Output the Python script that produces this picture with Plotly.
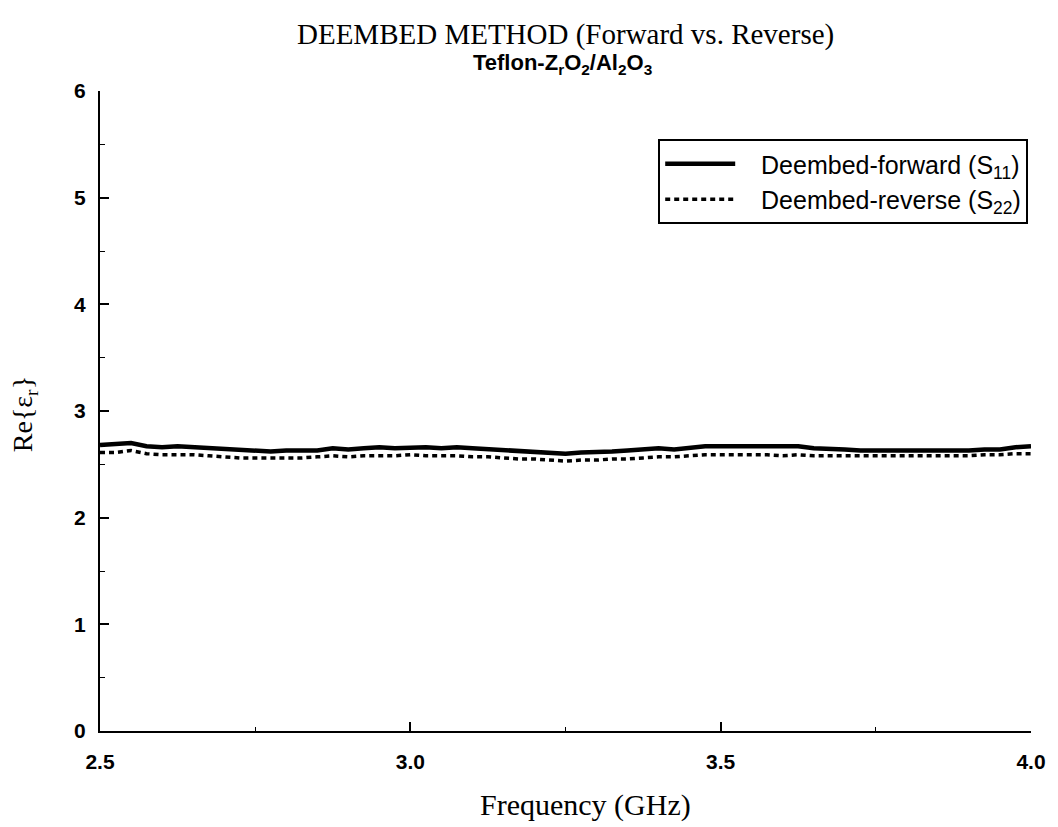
import plotly.graph_objects as go

# Frequency sweep, 2.5-4.0 GHz in 25 MHz steps
freq_ghz = [round(2.5 + 0.025 * i, 3) for i in range(61)]

# Real part of relative permittivity, deembedded from S11 (forward)
eps_forward = [
    2.68, 2.69, 2.70, 2.67, 2.66, 2.67, 2.66, 2.65, 2.64, 2.63,
    2.63, 2.62, 2.63, 2.63, 2.63, 2.65, 2.64, 2.65, 2.66, 2.65,
    2.66, 2.66, 2.65, 2.66, 2.65, 2.64, 2.64, 2.63, 2.62, 2.61,
    2.60, 2.61, 2.61, 2.62, 2.63, 2.64, 2.65, 2.64, 2.66, 2.67,
    2.67, 2.67, 2.66, 2.66, 2.66, 2.67, 2.65, 2.65, 2.64, 2.63,
    2.63, 2.63, 2.62, 2.62, 2.63, 2.63, 2.63, 2.64, 2.64, 2.66,
    2.67,
]

# Real part of relative permittivity, deembedded from S22 (reverse)
eps_reverse = [
    2.61, 2.61, 2.63, 2.60, 2.59, 2.59, 2.59, 2.58, 2.57, 2.56,
    2.56, 2.56, 2.56, 2.56, 2.57, 2.58, 2.57, 2.58, 2.58, 2.58,
    2.59, 2.58, 2.58, 2.58, 2.57, 2.57, 2.56, 2.55, 2.55, 2.54,
    2.53, 2.54, 2.54, 2.55, 2.55, 2.56, 2.57, 2.57, 2.58, 2.59,
    2.59, 2.59, 2.59, 2.59, 2.58, 2.59, 2.58, 2.58, 2.58, 2.58,
    2.58, 2.58, 2.58, 2.58, 2.58, 2.58, 2.58, 2.59, 2.59, 2.60,
    2.60,
]

x_ticks = [2.5, 3.0, 3.5, 4.0]
x_tick_text = ["2.5", "3.0", "3.5", "4.0"]
y_ticks = [0, 1, 2, 3, 4, 5, 6]

pad = "\u00a0" * 3

fig = go.Figure()
fig.add_trace(go.Scatter(
    x=freq_ghz, y=eps_forward, mode="lines",
    name=pad + "Deembed-forward (S<sub>11</sub>)",
    line=dict(color="black", width=4.5),
))
fig.add_trace(go.Scatter(
    x=freq_ghz, y=eps_reverse, mode="lines",
    name=pad + "Deembed-reverse (S<sub>22</sub>)",
    line=dict(color="black", width=3.5, dash="5px,4px"),
))

serif = "Liberation Serif, Times New Roman, serif"
sans = "Liberation Sans, Arial, sans-serif"

fig.update_layout(
    width=1058, height=827,
    margin=dict(l=100, r=25, t=91, b=96),
    paper_bgcolor="white", plot_bgcolor="white",
    showlegend=True,
    legend=dict(
        x=0.997, y=0.925, xanchor="right", yanchor="top",
        bordercolor="black", borderwidth=2, bgcolor="white",
        font=dict(family=sans, size=25, color="black"),
        itemwidth=70, tracegroupgap=0,
    ),
    xaxis=dict(
        range=[2.5, 4.0],
        tickvals=x_ticks, ticktext=x_tick_text,
        ticks="inside", ticklen=9, tickwidth=2, tickcolor="black",
        minor=dict(tickvals=[2.75, 3.25, 3.75], ticks="inside", ticklen=4,
                   tickwidth=1, tickcolor="black"),
        showline=True, linecolor="black", linewidth=2,
        showgrid=False, zeroline=False,
        ticklabelstandoff=11,
        tickfont=dict(family=sans, size=21, color="black", weight="bold"),
    ),
    yaxis=dict(
        range=[0, 6],
        tickvals=y_ticks,
        ticks="inside", ticklen=9, tickwidth=2, tickcolor="black",
        minor=dict(tickvals=[0.5, 1.5, 2.5, 3.5, 4.5, 5.5], ticks="inside",
                   ticklen=5, tickwidth=1, tickcolor="black"),
        showline=True, linecolor="black", linewidth=2,
        showgrid=False, zeroline=False,
        ticklabelstandoff=8,
        tickfont=dict(family=sans, size=21, color="black", weight="bold"),
    ),
    annotations=[
        dict(text="DEEMBED METHOD (Forward vs. Reverse)",
             xref="paper", yref="paper", x=0.5, y=1.0, yshift=57,
             xanchor="center", yanchor="middle", showarrow=False,
             font=dict(family=serif, size=29, color="black")),
        dict(text="Teflon-Z<sub>r</sub>O<sub>2</sub>/Al<sub>2</sub>O<sub>3</sub>",
             xref="paper", yref="paper", x=0.497, y=1.0, yshift=27,
             xanchor="center", yanchor="middle", showarrow=False,
             font=dict(family=sans, size=22, color="black", weight="bold")),
        dict(text="Frequency (GHz)",
             xref="paper", yref="paper", x=0.522, y=0.0, yshift=-74,
             xanchor="center", yanchor="middle", showarrow=False,
             font=dict(family=serif, size=30, color="black")),
        dict(text="Re{ε<sub>r</sub>}", textangle=-90,
             xref="paper", yref="paper", x=0.0, xshift=-76, y=0.495,
             xanchor="center", yanchor="middle", showarrow=False,
             font=dict(family=serif, size=28, color="black")),
    ],
)

fig.write_html("out.html")
